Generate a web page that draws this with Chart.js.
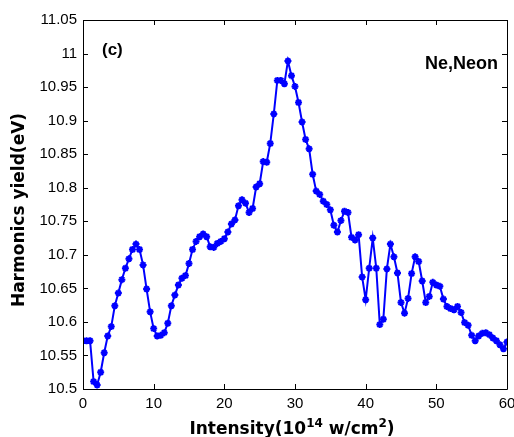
<!DOCTYPE html>
<html>
<head>
<meta charset="utf-8">
<script src="https://cdn.jsdelivr.net/npm/chart.js@4/dist/chart.umd.min.js"></script>
<style>
  html, body { margin: 0; padding: 0; background: #fff; }
  #wrap { width: 514px; height: 437px; }
</style>
</head>
<body>
<div id="wrap"><canvas id="harmChart" width="514" height="437"></canvas></div>
<script>
// intensity in 10^14 W/cm^2
var intensity = [
  0, 0.5, 1, 1.5, 2, 2.5, 3, 3.5, 4, 4.5, 5, 5.5, 6, 6.5, 7, 7.5, 8, 8.5, 9, 9.5,
  10, 10.5, 11, 11.5, 12, 12.5, 13, 13.5, 14, 14.5, 15, 15.5, 16, 16.5, 17, 17.5, 18, 18.5, 19, 19.5,
  20, 20.5, 21, 21.5, 22, 22.5, 23, 23.5, 24, 24.5, 25, 25.5, 26, 26.5, 27, 27.5, 28, 28.5, 29, 29.5,
  30, 30.5, 31, 31.5, 32, 32.5, 33, 33.5, 34, 34.5, 35, 35.5, 36, 36.5, 37, 37.5, 38, 38.5, 39, 39.5,
  40, 40.5, 41, 41.5, 42, 42.5, 43, 43.5, 44, 44.5, 45, 45.5, 46, 46.5, 47, 47.5, 48, 48.5, 49, 49.5,
  50, 50.5, 51, 51.5, 52, 52.5, 53, 53.5, 54, 54.5, 55, 55.5, 56, 56.5, 57, 57.5, 58, 58.5, 59, 59.5,
  60
];
// harmonics yield (eV)
var harmonicsYield = [
  10.572, 10.572, 10.572, 10.511, 10.506, 10.525, 10.554, 10.579, 10.593, 10.624,
  10.643, 10.663, 10.680, 10.694, 10.708, 10.716, 10.708, 10.685, 10.649, 10.615,
  10.590, 10.579, 10.580, 10.584, 10.598, 10.624, 10.640, 10.655, 10.665, 10.669,
  10.687, 10.708, 10.720, 10.727, 10.731, 10.727, 10.712, 10.711, 10.717, 10.720,
  10.724, 10.734, 10.746, 10.752, 10.773, 10.782, 10.777, 10.763, 10.769, 10.801,
  10.806, 10.839, 10.838, 10.866, 10.910, 10.960, 10.960, 10.955, 10.989, 10.967,
  10.951, 10.927, 10.898, 10.872, 10.858, 10.820, 10.795, 10.790, 10.780, 10.775,
  10.767, 10.744, 10.734, 10.751, 10.765, 10.763, 10.726, 10.722, 10.730, 10.667,
  10.633, 10.680, 10.725, 10.680, 10.596, 10.604, 10.679, 10.716, 10.697, 10.673,
  10.629, 10.613, 10.635, 10.672, 10.697, 10.690, 10.661, 10.629, 10.638, 10.659,
  10.655, 10.653, 10.634, 10.623, 10.620, 10.618, 10.623, 10.614, 10.599, 10.595,
  10.580, 10.572, 10.579, 10.583, 10.584, 10.581, 10.576, 10.572, 10.566, 10.560,
  10.570
];
var xTicks = [0, 10, 20, 30, 40, 50, 60];
var yTicks = [10.5, 10.55, 10.6, 10.65, 10.7, 10.75, 10.8, 10.85, 10.9, 10.95, 11, 11.05];
var yTickLabels = ["10.5", "10.55", "10.6", "10.65", "10.7", "10.75", "10.8", "10.85", "10.9", "10.95", "11", "11.05"];

// box, inward ticks and text (MATLAB look)
var framePlugin = {
    id: 'frame',
    afterDraw: function (chart) {
        var ctx = chart.ctx;
        var a = chart.chartArea;
        var xs = chart.scales.x, ys = chart.scales.y;
        ctx.save();
        ctx.strokeStyle = '#000';
        ctx.lineWidth = 1;
        ctx.beginPath();
        ctx.rect(Math.round(a.left) + 0.5, Math.round(a.top) + 0.5, Math.round(a.right - a.left), Math.round(a.bottom - a.top));
        xTicks.forEach(function (v) {
            var px = Math.round(xs.getPixelForValue(v)) + 0.5;
            ctx.moveTo(px, a.bottom); ctx.lineTo(px, a.bottom - 5);
            ctx.moveTo(px, a.top); ctx.lineTo(px, a.top + 5);
        });
        yTicks.forEach(function (v) {
            var py = Math.round(ys.getPixelForValue(v)) + 0.5;
            ctx.moveTo(a.left, py); ctx.lineTo(a.left + 5, py);
            ctx.moveTo(a.right, py); ctx.lineTo(a.right - 5, py);
        });
        ctx.stroke();

        ctx.fillStyle = '#000';
        ctx.textBaseline = 'middle';
        ctx.font = 'bold 17px "Liberation Sans", Arial, sans-serif';
        ctx.textAlign = 'left';
        ctx.fillText('(c)', 102, 50);
        ctx.font = 'bold 18px "Liberation Sans", Arial, sans-serif';
        ctx.textAlign = 'right';
        ctx.fillText('Ne,Neon', 498, 64);

        // y title
        ctx.save();
        ctx.translate(20, 210);
        ctx.rotate(-Math.PI / 2);
        ctx.textAlign = 'center';
        ctx.font = 'bold 17px "DejaVu Sans", sans-serif';
        ctx.fillText('Harmonics yield(eV)', 0, 0);
        ctx.restore();

        // x title with superscripts
        var big = 'bold 17px "DejaVu Sans", sans-serif';
        var small = 'bold 12px "DejaVu Sans", sans-serif';
        var parts = [['Intensity(10', big, 0], ['14', small, -7], [' w/cm', big, 0], ['2', small, -7], [')', big, 0]];
        var total = 0;
        parts.forEach(function (p) { ctx.font = p[1]; total += ctx.measureText(p[0]).width; });
        var x = 292 - total / 2;
        ctx.textAlign = 'left';
        ctx.textBaseline = 'alphabetic';
        parts.forEach(function (p) {
            ctx.font = p[1];
            ctx.fillText(p[0], x, 434 + p[2]);
            x += ctx.measureText(p[0]).width;
        });
        ctx.restore();
    }
};

document.addEventListener("DOMContentLoaded", function () {
    var ctx = document.getElementById("harmChart").getContext("2d");
    var points = intensity.map(function (v, i) { return { x: v, y: harmonicsYield[i] }; });
    var chart = new Chart(ctx, {
        type: 'line',
        data: {
            datasets: [{
                label: 'Ne,Neon',
                data: points,
                borderColor: '#0000ff',
                backgroundColor: '#0000ff',
                borderWidth: 2,
                pointStyle: 'star',
                pointRadius: 3.5,
                pointBorderWidth: 2,
                pointBorderColor: '#0000ff',
                pointBackgroundColor: '#0000ff',
                fill: false,
                tension: 0,
            }]
        },
        options: {
            responsive: false,
            animation: false,
            devicePixelRatio: 1,
            layout: {
                padding: { top: 20, right: 7, left: 0, bottom: 0 }
            },
            scales: {
                x: {
                    type: 'linear',
                    min: 0,
                    max: 60,
                    afterBuildTicks: function (s) { s.ticks = xTicks.map(function (v) { return { value: v }; }); },
                    afterFit: function (s) { s.height = 48; s.paddingLeft = 0; s.paddingRight = 0; },
                    grid: { display: false, drawTicks: false },
                    border: { display: false },
                    ticks: {
                        color: '#000',
                        padding: 6,
                        maxRotation: 0,
                        font: { family: '"Liberation Sans", Arial, sans-serif', size: 15 }
                    }
                },
                y: {
                    min: 10.5,
                    max: 11.05,
                    afterBuildTicks: function (s) { s.ticks = yTicks.map(function (v) { return { value: v }; }); },
                    afterFit: function (s) { s.width = 83; s.paddingTop = 0; s.paddingBottom = 0; },
                    grid: { display: false, drawTicks: false },
                    border: { display: false },
                    ticks: {
                        color: '#000',
                        padding: 6,
                        font: { family: '"Liberation Sans", Arial, sans-serif', size: 15 },
                        callback: function (value, index) { return yTickLabels[index]; }
                    }
                }
            },
            plugins: {
                legend: { display: false },
                tooltip: { enabled: false }
            }
        },
        plugins: [framePlugin]
    });
});
</script>
</body>
</html>
